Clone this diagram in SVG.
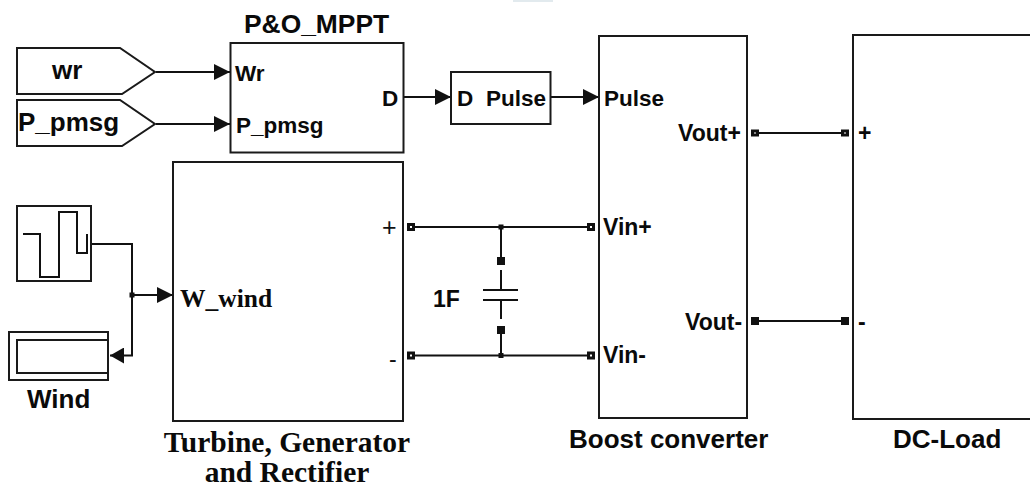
<svg xmlns="http://www.w3.org/2000/svg" width="1030" height="489" viewBox="0 0 1030 489">
<style>
.b{fill:#fff;stroke:#1a1a1a;stroke-width:2}
.o{fill:none;stroke:#1a1a1a;stroke-width:2}
.l{fill:none;stroke:#111;stroke-width:2}
.s{font-family:"Liberation Sans",Arial,sans-serif;font-weight:bold;font-size:23px;fill:#0a0a0a}
.m{font-size:22.500px}
.h{font-size:26px}
.t{font-family:"Liberation Serif","Times New Roman",serif;font-weight:bold;font-size:29.500px;fill:#0a0a0a}
.r{font-family:"Liberation Sans",Arial,sans-serif;fill:#111}
.p{fill:#fff;stroke:#111;stroke-width:3}
.f{fill:#111;stroke:none}
</style>
<defs>
<marker id="a" markerUnits="userSpaceOnUse" markerWidth="16" markerHeight="16" refX="16" refY="8" orient="auto"><path d="M0,0L16,8L0,16Z" fill="#111"/></marker>
<marker id="c" markerUnits="userSpaceOnUse" markerWidth="14" markerHeight="16" refX="14" refY="8" orient="auto"><path d="M0,0L14,8L0,16Z" fill="#111"/></marker>
</defs>
<rect width="1030" height="489" fill="#fff"/>
<rect x="513" y="0" width="40" height="2" fill="#e2eaee"/>
<g id="connectors">
<path class="l" marker-end="url(#a)" d="M156,72H230"/>
<path class="l" marker-end="url(#a)" d="M156,124H230"/>
<path class="l" marker-end="url(#a)" d="M404,97H451"/>
<path class="l" marker-end="url(#a)" d="M551,97H599"/>
<path class="l" d="M755,133H845"/>
<path class="l" d="M755,321H845"/>
<path class="l" d="M411,227H591"/>
<path class="l" d="M411,355.500H591"/>
<path class="l" d="M91,244H132V295"/>
<path class="l" marker-end="url(#a)" d="M132,295H173"/>
<path class="l" marker-end="url(#c)" d="M132,295V355.500H110"/>
<path class="l" d="M501,227V258M501,270V290M501,300V319M501,330V355.500"/>
<path class="l" d="M483,290H518M483,300H518"/>
<rect class="f" x="129.500" y="292.500" width="5" height="5"/>
<rect class="f" x="498.500" y="224.500" width="5" height="5"/>
<rect class="f" x="498.500" y="353" width="5" height="5"/>
<rect class="f" x="497" y="257" width="8" height="8"/>
<rect class="f" x="497" y="326" width="8" height="8"/>
</g>
<g id="wr"><path class="b" d="M17,48H120L155,72L122,94H17Z"/><text class="s h" x="52" y="79">wr</text></g>
<g id="p-pmsg"><path class="b" d="M17,100H120L155,124L122,146H17Z"/><text class="s h" x="18" y="131">P_pmsg</text></g>
<g id="mppt"><rect class="b" x="230.500" y="43" width="173" height="109.500"/><text class="s h" x="244" y="33" style="font-size:26.400px">P&amp;O_MPPT</text><text class="s m" x="235" y="81">Wr</text><text class="s m" x="236" y="133">P_pmsg</text><text class="s m" x="382" y="106">D</text></g>
<g id="pulse"><rect class="b" x="451" y="72" width="99.500" height="52"/><text class="s m" x="457" y="106">D</text><text class="s m" x="486" y="106">Pulse</text></g>
<g id="step"><rect class="b" x="17" y="206" width="74" height="75"/><path class="l" d="M23,234H40V277H59V212H77V253H87V234"/></g>
<g id="scope"><rect class="b" x="9" y="332" width="99" height="48"/><path class="o" d="M108,340H17V373H108"/><text class="s h" x="27" y="408">Wind</text></g>
<g id="turbine"><rect class="b" x="173" y="162" width="230" height="259"/><text class="t" x="180" y="307" style="font-size:25.500px">W_wind</text><text class="r" x="382" y="236" font-size="25">+</text><text class="r" x="389" y="367" font-size="23">-</text><rect class="p" x="408.500" y="224.500" width="5" height="5"/><rect class="p" x="408.500" y="353" width="5" height="5"/><text class="t" x="287" y="452" text-anchor="middle">Turbine, Generator</text><text class="t" x="287" y="482" text-anchor="middle">and Rectifier</text></g>
<g id="cap"><text class="s" x="433" y="307">1F</text></g>
<g id="boost"><rect class="b" x="599" y="36" width="148" height="382"/><rect class="p" x="588.500" y="224.500" width="5" height="5"/><rect class="p" x="588.500" y="353" width="5" height="5"/><text class="s m" x="604" y="106">Pulse</text><text class="s" x="603" y="235">Vin+</text><text class="s" x="603" y="363">Vin-</text><text class="s" x="678" y="141">Vout+</text><text class="s" x="685" y="330">Vout-</text><rect class="p" x="752.500" y="131" width="5" height="4"/><rect class="f" x="751" y="317" width="8" height="8"/><text class="s h" x="569" y="448">Boost converter</text></g>
<g id="load"><rect class="b" x="853" y="35" width="190" height="384"/><rect class="p" x="842.500" y="131" width="5" height="4"/><rect class="f" x="841" y="317" width="8" height="8"/><text class="s" x="858" y="141">+</text><text class="s" x="858" y="330">-</text><text class="s h" x="893" y="448">DC-Load</text></g>
</svg>
